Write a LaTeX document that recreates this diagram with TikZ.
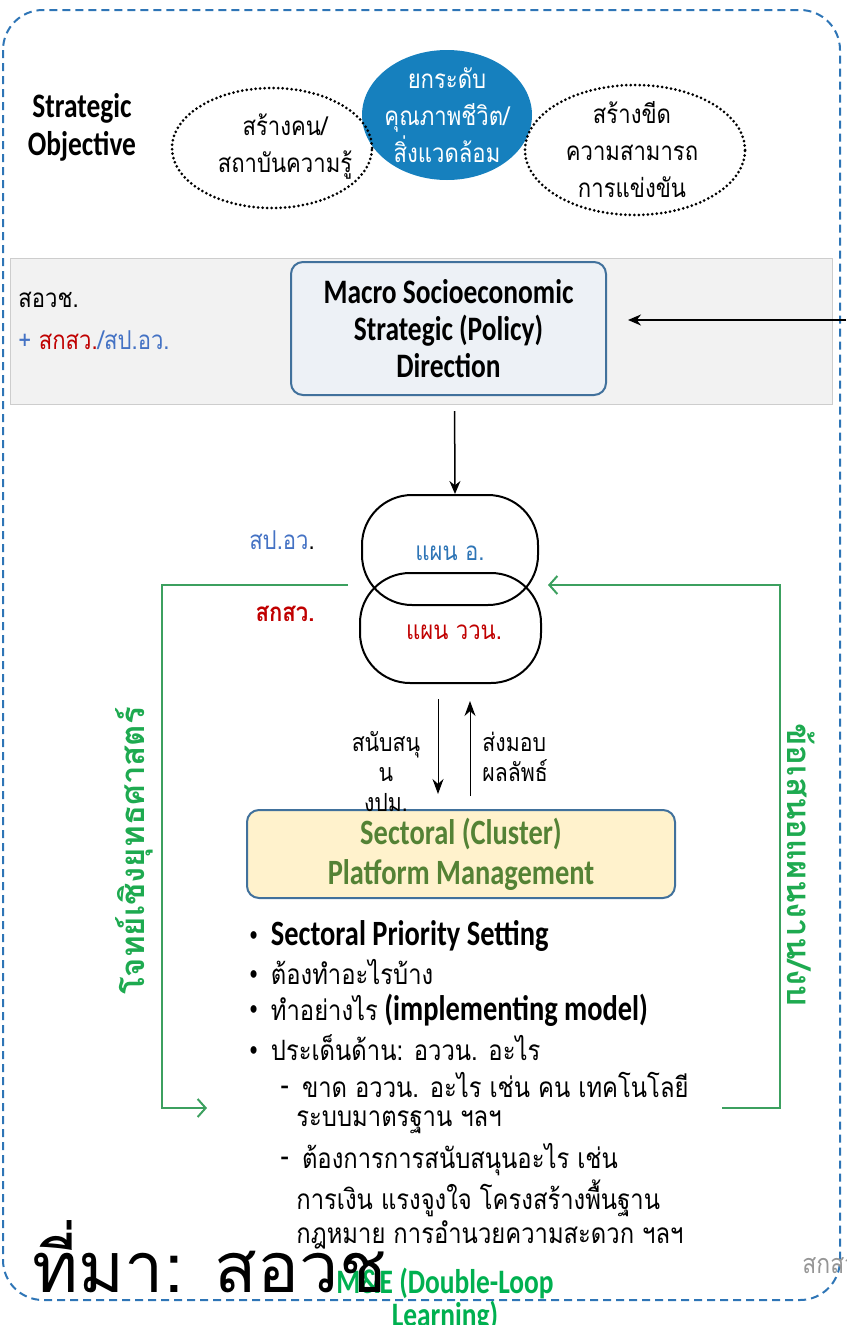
\documentclass[tikz,border=0pt]{standalone}
\usepackage{fontspec}
\setmainfont[FakeStretch=0.8,Scale=1.27]{Carlito}
\newfontfamily\thaif[Script=Thai,FakeStretch=0.85]{Loma}
\newfontfamily\thaibig[Script=Thai]{Loma}
\usetikzlibrary{arrows.meta,shapes.geometric,positioning}

\definecolor{frameblue}{RGB}{46,117,182}
\definecolor{ellblue}{RGB}{22,128,190}
\definecolor{bandgray}{RGB}{242,242,242}
\definecolor{bandline}{RGB}{205,205,205}
\definecolor{boxline}{RGB}{65,113,156}
\definecolor{macrofill}{RGB}{237,241,246}
\definecolor{darkred}{RGB}{192,0,0}
\definecolor{thaiblue}{RGB}{68,114,196}
\definecolor{planblue}{RGB}{46,117,182}
\definecolor{loopgreen}{RGB}{60,160,95}
\definecolor{vgreen}{RGB}{30,170,80}
\definecolor{platfill}{RGB}{255,242,204}
\definecolor{platgreen}{RGB}{84,130,53}
\definecolor{megreen}{RGB}{0,176,80}
\definecolor{notegray}{RGB}{150,150,150}

\newcommand{\dotbullet}{\raisebox{0.12em}{\fontsize{17}{17}\selectfont\textbullet}\ \ }

\tikzset{
  outerframe/.style={draw=frameblue, line width=2pt, dash pattern=on 8pt off 5pt, rounded corners=40pt},
  dotell/.style={ellipse, draw, line width=3pt, dash pattern=on 0pt off 4.5pt, line cap=round, inner sep=0pt},
  ellfont/.style={font=\thaif\fontsize{26}{37}\selectfont, align=center},
  roundbox/.style={draw=boxline, line width=2pt, rounded corners=12pt},
  planoval/.style={draw, line width=2pt, rounded corners=50pt, minimum height=110pt},
  blackarrow/.style={-{Stealth[length=13pt,width=11pt]}, line width=1.5pt},
  thinarrow/.style={-{Stealth[length=15pt,width=11pt]}, line width=1pt},
  looparrow/.style={draw=loopgreen, line width=2pt, -{Straight Barb[length=8pt,width=18pt]}},
  vlabel/.style={text=vgreen, font=\thaibig\bfseries\fontsize{33}{36}\selectfont},
  listline/.style={anchor=west, font=\fontsize{28}{33}\selectfont},
  thaitext/.style={font=\thaif\fontsize{26}{31}\selectfont}
}

\begin{document}
\begin{tikzpicture}[x=1pt,y=-1pt]
\useasboundingbox (0,0) rectangle (846,1325);
\draw[outerframe] (3,10) rectangle (840,1300);

% strategic objectives
\node[font=\bfseries\fontsize{27}{38}\selectfont, align=center] (objlbl) at (82,127) {Strategic\\Objective};
\node[ellipse, fill=ellblue, minimum width=170pt, minimum height=130pt, inner sep=0pt] (lifeobj) at (447,115) {};
\node[ellfont, text=white] (lifetxt) at (lifeobj.center) {ยกระดับ\\คุณภาพชีวิต/\\สิ่งแวดล้อม};
\node[dotell, minimum width=200pt, minimum height=120pt] (peopleobj) at (272,148) {};
\node[ellfont] (peopletxt) at (285,147) {สร้างคน/\\สถาบันความรู้};
\node[dotell, minimum width=220pt, minimum height=130pt] (compobj) at (635,150) {};
\node[ellfont] (comptxt) at (632,150) {สร้างขีด\\ความสามารถ\\การแข่งขัน};

% macro direction band
\draw[draw=bandline, fill=bandgray] (10,258) rectangle (832,404);
\node[thaitext, anchor=west] (orgtop) at (14,300) {สอวช.};
\node[thaitext, anchor=west] (orgsub) at (14,340) {\textcolor{thaiblue}{+} \textcolor{darkred}{สกสว.}\textcolor{thaiblue}{/สป.อว.}};
\node[roundbox, fill=macrofill, minimum width=315pt, minimum height=133pt, align=center,
      font=\bfseries\fontsize{27}{37}\selectfont] (macro) at (448.5,328.5) {Macro Socioeconomic\\Strategic (Policy)\\Direction};
\coordinate (inlet) at (846,320);
\draw[blackarrow] (inlet) -- (macro.east |- inlet) [shorten >=21pt];

% plans
\node[planoval, minimum width=176pt] (planA) at (450,550) {};
\node[planoval, minimum width=181pt] (planB) at (450.5,628) {};
\node[thaitext, text=planblue] (planAtxt) at (450,553) {แผน อ.};
\node[thaitext, text=darkred] (planBtxt) at (454,632) {แผน ววน.};
\node[thaitext, text=thaiblue] (mheslbl) at (282,540) {สป.อว\textcolor{black}{.}};
\node[thaitext, text=darkred, font=\thaif\bfseries\fontsize{26}{31}\selectfont] (tsrilbl) at (285,614) {สกสว.};
\draw[blackarrow, shorten <=15pt] ([xshift=6pt]macro.south) -- ([xshift=5pt]planA.north);

% platform
\node[roundbox, fill=platfill, minimum width=428pt, minimum height=88pt, align=center, text=platgreen,
      font=\bfseries\fontsize{28}{40}\selectfont] (platform) at (461,854) {Sectoral (Cluster)\\Platform Management};
\draw[thinarrow, shorten <=15pt, shorten >=15pt] ([xshift=-12.5pt]planB.south) -- ([xshift=-12.5pt]planB.south |- platform.north);
\draw[thinarrow, shorten <=13pt, shorten >=17pt] ([xshift=19.5pt]planB.south |- platform.north) -- ([xshift=19.5pt]planB.south);
\node[thaitext, align=center, font=\thaif\fontsize{25}{30}\selectfont] (fundlbl) at (386,772) {สนับสนุ\\น\\งปม.};
\node[thaitext, align=left, anchor=west, font=\thaif\fontsize{25}{30}\selectfont] (deliverlbl) at (478,757) {ส่งมอบ\\ผลลัพธ์};

% list under platform
\node[listline] (item1) at (245,936) {\dotbullet\textbf{Sectoral Priority Setting}};
\node[listline] (item2) at (245,972) {\dotbullet{\thaif ต้องทำอะไรบ้าง}};
\node[listline] (item3) at (245,1010) {\dotbullet{\thaif ทำอย่างไร} \textbf{(implementing model)}};
\node[listline] (item4) at (245,1048) {\dotbullet{\thaif ประเด็นด้าน: อววน. อะไร}};
\node[listline] (item5) at (276,1085) {-\ \ {\thaif ขาด อววน. อะไร เช่น คน เทคโนโลยี}};
\node[listline] (item6) at (292,1122) {\thaif ระบบมาตรฐาน ฯลฯ};
\node[listline] (item7) at (276,1160) {-\ \ {\thaif ต้องการการสนับสนุนอะไร เช่น}};
\node[listline] (item8) at (292,1198) {\thaif การเงิน แรงจูงใจ โครงสร้างพื้นฐาน};
\node[listline] (item9) at (292,1235) {\thaif กฎหมาย การอำนวยความสะดวก ฯลฯ};

% double loop
\coordinate (ltop) at (348,585);
\coordinate (lin) at (207,1108);
\coordinate (rout) at (722,1108);
\coordinate (rtop) at (548,585);
\draw[looparrow] (ltop) -| (162,1108) -- (lin);
\draw[looparrow] (rout) -- (780,1108) |- (rtop);
\node[vlabel, rotate=90] (goalv) at (134,851) {โจทย์เชิงยุทธศาสตร์};
\node[vlabel, rotate=-90] (propv) at (801,865) {ข้อเสนอแผนงาน/งบ};

% footer
\node[align=center, text=megreen, font=\bfseries\fontsize{27}{33}\selectfont] (mne) at (445,1300) {M\&E (Double-Loop\\Learning)};
\node[anchor=base west, font=\thaibig\fontsize{70}{80}\selectfont] (source) at (28,1292) {ที่มา: สอวช};
\node[anchor=west, text=notegray, font=\thaif\fontsize{27}{31}\selectfont] (corner) at (798,1266) {สกสว.};
\end{tikzpicture}
\end{document}
